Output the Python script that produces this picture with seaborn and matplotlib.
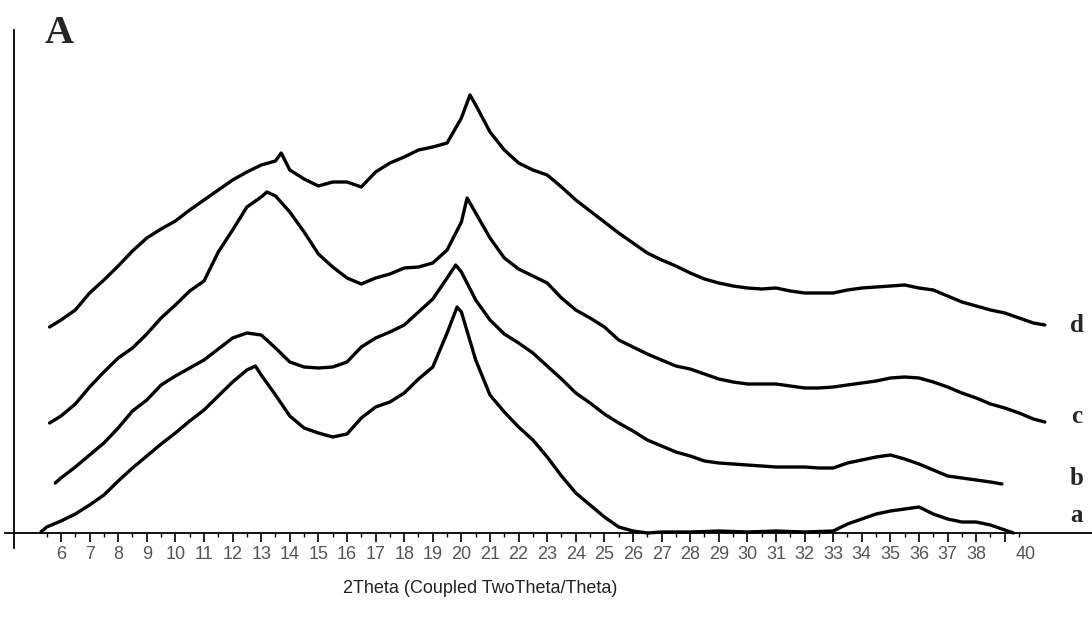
import numpy as np
import pandas as pd
import matplotlib
matplotlib.use('Agg')
import matplotlib.pyplot as plt
import seaborn as sns

# XRD patterns, values (intensity in arbitrary units)
d_theta = [5.6, 6.0, 6.5, 7.0, 7.5, 8.0, 8.5, 9.0, 9.5, 10.0, 10.5, 11.0, 11.5, 12.0, 12.5, 13.0,
           13.5, 13.7, 14.0, 14.5, 15.0, 15.5, 16.0, 16.5, 17.0, 17.5, 18.0, 18.5, 19.0, 19.5,
           20.0, 20.3, 20.5, 21.0, 21.5, 22.0, 22.5, 23.0, 23.5, 24.0, 24.5, 25.0, 25.5, 26.0,
           26.5, 27.0, 27.5, 28.0, 28.5, 29.0, 29.5, 30.0, 30.5, 31.0, 31.5, 32.0, 32.5, 33.0,
           33.5, 34.0, 34.5, 35.0, 35.5, 36.0, 36.5, 37.0, 37.5, 38.0, 38.5, 39.0, 39.5, 40.0, 40.4]
d_int = [206, 213, 223, 240, 253, 267, 282, 295, 304, 312, 323, 333, 343, 353, 361, 368,
         372, 380, 363, 354, 347, 351, 351, 346, 361, 370, 376, 383, 386, 390,
         415, 438, 428, 401, 383, 370, 363, 358, 346, 333, 322, 311, 300, 290,
         280, 273, 267, 260, 254, 250, 247, 245, 244, 245, 242, 240, 240, 240,
         243, 245, 246, 247, 248, 245, 243, 237, 231, 227, 223, 220, 215, 210, 208]

c_theta = [5.6, 6.0, 6.5, 7.0, 7.5, 8.0, 8.5, 9.0, 9.5, 10.0, 10.5, 11.0, 11.5, 12.0, 12.5, 13.0,
           13.2, 13.5, 14.0, 14.5, 15.0, 15.5, 16.0, 16.5, 17.0, 17.5, 18.0, 18.5, 19.0, 19.5,
           20.0, 20.2, 20.5, 21.0, 21.5, 22.0, 22.5, 23.0, 23.5, 24.0, 24.5, 25.0, 25.5, 26.0,
           26.5, 27.0, 27.5, 28.0, 28.5, 29.0, 29.5, 30.0, 30.5, 31.0, 31.5, 32.0, 32.5, 33.0,
           33.5, 34.0, 34.5, 35.0, 35.5, 36.0, 36.5, 37.0, 37.5, 38.0, 38.5, 39.0, 39.5, 40.0, 40.4]
c_int = [110, 117, 129, 146, 161, 175, 185, 199, 215, 228, 242, 252, 281, 303, 326, 336,
         341, 337, 321, 301, 279, 266, 255, 249, 255, 259, 265, 266, 270, 283,
         311, 335, 320, 295, 275, 264, 257, 250, 235, 223, 215, 206, 193, 186,
         179, 173, 167, 164, 159, 154, 151, 149, 149, 149, 147, 145, 145, 146,
         148, 150, 152, 155, 156, 155, 151, 146, 140, 135, 129, 125, 120, 114, 111]

b_theta = [5.8, 6.0, 6.5, 7.0, 7.5, 8.0, 8.5, 9.0, 9.5, 10.0, 10.5, 11.0, 11.5, 12.0, 12.5, 13.0,
           13.5, 14.0, 14.5, 15.0, 15.5, 16.0, 16.5, 17.0, 17.5, 18.0, 18.5, 19.0, 19.5, 19.8,
           20.0, 20.5, 21.0, 21.5, 22.0, 22.5, 23.0, 23.5, 24.0, 24.5, 25.0, 25.5, 26.0, 26.5,
           27.0, 27.5, 28.0, 28.5, 29.0, 29.5, 30.0, 30.5, 31.0, 31.5, 32.0, 32.5, 33.0, 33.5,
           34.0, 34.5, 35.0, 35.5, 36.0, 36.5, 37.0, 37.5, 38.0, 38.5, 38.9]
b_int = [50, 55, 66, 78, 90, 105, 122, 133, 148, 157, 165, 173, 184, 195, 200, 198,
         185, 171, 166, 165, 166, 171, 186, 195, 201, 208, 221, 234, 255, 268,
         261, 233, 213, 199, 190, 180, 167, 154, 140, 130, 119, 110, 102, 93,
         87, 81, 77, 72, 70, 69, 68, 67, 66, 66, 66, 65, 65, 70,
         73, 76, 78, 74, 69, 63, 57, 55, 53, 51, 49]

a_theta = [5.3, 5.5, 6.0, 6.5, 7.0, 7.5, 8.0, 8.5, 9.0, 9.5, 10.0, 10.5, 11.0, 11.5, 12.0, 12.5,
           12.8, 13.0, 13.5, 14.0, 14.5, 15.0, 15.5, 16.0, 16.5, 17.0, 17.5, 18.0, 18.5, 19.0,
           19.5, 19.85, 20.0, 20.5, 21.0, 21.5, 22.0, 22.5, 23.0, 23.5, 24.0, 24.5, 25.0, 25.5,
           26.0, 26.5, 27.0, 28.0, 29.0, 30.0, 31.0, 32.0, 33.0, 33.5, 34.0, 34.5, 35.0, 35.5,
           36.0, 36.5, 37.0, 37.5, 38.0, 38.5, 39.0, 39.3]
a_int = [1, 6, 12, 19, 28, 38, 52, 65, 77, 89, 100, 112, 123, 137, 151, 163,
         167, 158, 138, 117, 105, 100, 96, 99, 115, 126, 131, 140, 154, 166,
         200, 226, 221, 173, 138, 121, 106, 93, 76, 57, 40, 28, 16, 6,
         2, 0, 1, 1, 2, 1, 2, 1, 2, 9, 14, 19, 22, 24,
         26, 19, 14, 11, 11, 8, 3, 0]

names = ['a', 'b', 'c', 'd']
label_theta = 41.52
label_base = [11, 48, 110, 201]

frames = []
for n, th, it in zip(names, [a_theta, b_theta, c_theta, d_theta], [a_int, b_int, c_int, d_int]):
    frames.append(pd.DataFrame({'theta': th, 'intensity': it, 'sample': n}))
df = pd.concat(frames, ignore_index=True)

sns.set_style('white')
sans = ['Liberation Sans', 'DejaVu Sans']
serif = ['Liberation Serif', 'DejaVu Serif']

fig = plt.figure(figsize=(10.92, 6.22), dpi=100)
ax = fig.add_axes([5 / 1092, 74 / 622, 1087 / 1092, 518 / 622])

sns.lineplot(data=df, x='theta', y='intensity', units='sample', estimator=None,
             sort=False, color='black', lw=2.4, ax=ax)

ax.set_xlim(4.042, 42.049)
ax.set_ylim(-15, 503)

for s in ['top', 'right']:
    ax.spines[s].set_visible(False)
ax.spines['bottom'].set_position(('data', 0))
ax.spines['left'].set_position(('data', 4.357))
ax.spines['bottom'].set_linewidth(1.3)
ax.spines['left'].set_linewidth(1.3)
ax.spines['bottom'].set_color('black')
ax.spines['left'].set_color('black')

major = list(range(6, 40))
ax.set_xticks(major)
ax.set_xticklabels([str(v) if v < 39 else '' for v in major])
ax.set_xticks(np.arange(5.5, 40, 1.0), minor=True)
ax.tick_params(axis='x', which='major', direction='out', length=6.5, width=1.2,
               color='black', pad=3, labelsize=13, labelcolor='#555555')
ax.tick_params(axis='x', which='minor', direction='out', length=3, width=1.0, color='black')
ax.tick_params(axis='x', bottom=True, which='both')
for t in ax.get_xticklabels():
    t.set_family(sans)
ax.annotate('40', xy=(39.72, 0), xytext=(0, -9.5), textcoords='offset points',
            ha='center', va='top', fontsize=13, color='#555555', family=sans)
ax.set_yticks([])
ax.set_ylabel('')

ax.set_xlabel('2Theta (Coupled TwoTheta/Theta)', fontsize=13, color='#222222', family=sans)
ax.xaxis.set_label_coords(0.437, -0.062)

for n, yb in zip(names, label_base):
    ax.text(label_theta, yb, n, fontsize=18, fontweight='bold', family=serif,
            ha='center', va='baseline')
ax.text(5.44, 490, 'A', fontsize=29, fontweight='bold', family=serif,
        ha='left', va='baseline')

if ax.get_legend() is not None:
    ax.get_legend().remove()

fig.savefig('out.png', dpi=100)
